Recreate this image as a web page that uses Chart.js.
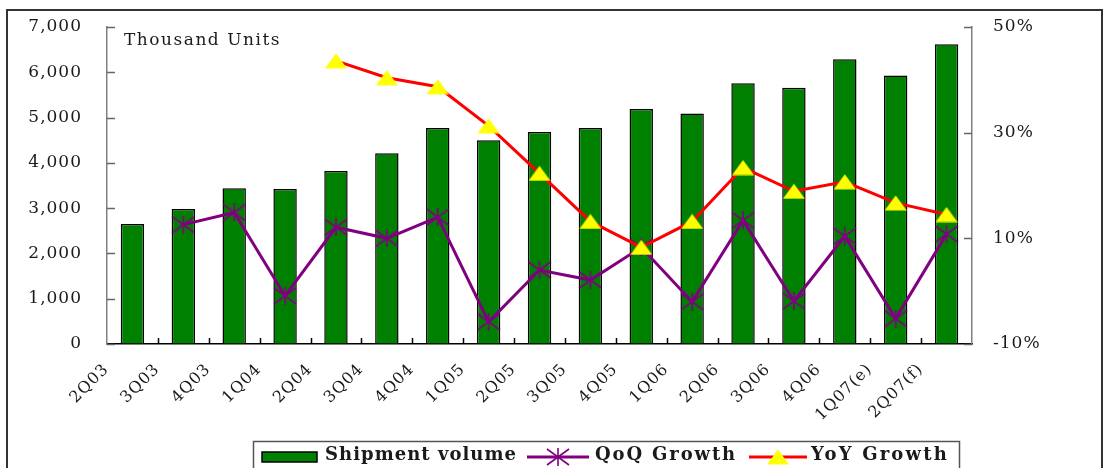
<!DOCTYPE html>
<html>
<head>
<meta charset="utf-8">
<script src="https://cdn.jsdelivr.net/npm/chart.js@4.4.0/dist/chart.umd.min.js"></script>
<style>
	html, body { margin:0; padding:0; background:#fff; }
	#wrap { width:1104px; height:468px; position:relative; }
</style>
</head>
<body>
<div id="wrap"><canvas id="chart" width="1104" height="468"></canvas></div>
<script>
// chart data
var quarters   = ['2Q03','3Q03','4Q03','1Q04','2Q04','3Q04','4Q04','1Q05','2Q05','3Q05','4Q05','1Q06','2Q06','3Q06','4Q06','1Q07(e)','2Q07(f)'];
var shipments  = [2650, 2980, 3440, 3420, 3820, 4210, 4770, 4500, 4680, 4770, 5190, 5090, 5760, 5660, 6290, 5930, 6620];
var qoqGrowth  = [null, 12.6, 14.9, -0.9, 12.1, 10.0, 14.0, -5.8, 4.0, 2.1, 8.3, -2.0, 13.4, -1.9, 10.4, -5.2, 10.8];
var yoyGrowth  = [null, null, null, null, 43.6, 40.4, 38.7, 31.3, 22.3, 13.2, 8.3, 13.2, 23.4, 18.9, 20.7, 16.7, 14.5];
var leftTicks  = [0, 1000, 2000, 3000, 4000, 5000, 6000, 7000];
var rightTicks = [-10, 10, 30, 50];
var unitLabel  = 'Thousand Units';

var FONT = "'DejaVu Serif', serif";
var TEXT = '#1a1a1a';

function fmt( v ){
	return String( v ).replace( /\B(?=(\d{3})+(?!\d))/g, ',' );
}

// excel like markers drawn once on small canvases
function make_star( color ){
	var c = document.createElement( 'canvas' ), ctx;
	c.width = 24; c.height = 18;
	ctx = c.getContext( '2d' );
	ctx.strokeStyle = color;
	ctx.lineWidth = 1.6;
	ctx.beginPath();
	ctx.moveTo( 1, 1 ); ctx.lineTo( 23, 17 );
	ctx.moveTo( 23, 1 ); ctx.lineTo( 1, 17 );
	ctx.moveTo( 12, 0 ); ctx.lineTo( 12, 18 );
	ctx.stroke();
	return c;
};

function make_triangle( color ){
	var c = document.createElement( 'canvas' ), ctx;
	c.width = 22; c.height = 16;
	ctx = c.getContext( '2d' );
	ctx.fillStyle = color;
	ctx.beginPath();
	ctx.moveTo( 11, 0.5 ); ctx.lineTo( 22, 15.5 ); ctx.lineTo( 0, 15.5 );
	ctx.closePath();
	ctx.fill();
	return c;
};

var starMark = make_star( '#800080' ),
	triMark  = make_triangle( '#ffff00' );

// text stretched to the width the original legend uses
function fill_wide( ctx, text, x, y, width ){
	var n = text.length;
	ctx.letterSpacing = '0px';
	var w = ctx.measureText( text ).width;
	ctx.letterSpacing = ( ( width - w ) / n ) + 'px';
	ctx.fillText( text, x, y );
	return width;
};

// frame, unit label, inner tick marks, legend
var decorations = {
	id : 'decorations',
	beforeDraw : function( chart ){
		var ctx = chart.ctx;
		ctx.save();
		ctx.fillStyle = '#fff';
		ctx.fillRect( 0, 0, chart.width, chart.height );
		ctx.restore();
		ctx.letterSpacing = '1px';
	},
	afterDraw : function( chart ){
		var ctx = chart.ctx,
			area = chart.chartArea,
			yl = chart.scales.y,
			yr = chart.scales.y1,
			i;
		ctx.save();

		// outer frame
		ctx.strokeStyle = '#333';
		ctx.lineWidth = 2;
		ctx.strokeRect( 7, 10, chart.width - 9, chart.height + 20 );

		// unit label
		ctx.fillStyle = TEXT;
		ctx.font = '17px ' + FONT;
		ctx.textBaseline = 'middle';
		ctx.textAlign = 'left';
		fill_wide( ctx, unitLabel, area.left + 17, area.top + 14, 157 );

		// tick marks pointing inside
		ctx.lineWidth = 1.5;
		ctx.strokeStyle = '#000';
		var w = ( area.right - area.left ) / quarters.length;
		for( i = 1; i < quarters.length; i++ ){
			var tx = Math.round( area.left + i * w ) + 0.5;
			ctx.beginPath(); ctx.moveTo( tx, area.bottom ); ctx.lineTo( tx, area.bottom - 6 ); ctx.stroke();
		}
		ctx.strokeStyle = '#666';
		leftTicks.forEach( function( v ){
			var ty = Math.round( yl.getPixelForValue( v ) ) + 0.5;
			ctx.beginPath(); ctx.moveTo( area.left, ty ); ctx.lineTo( area.left + 8, ty ); ctx.stroke();
		} );
		rightTicks.forEach( function( v ){
			var ty = Math.round( yr.getPixelForValue( v ) ) + 0.5;
			ctx.beginPath(); ctx.moveTo( area.right, ty ); ctx.lineTo( area.right - 8, ty ); ctx.stroke();
		} );

		// legend
		var ds = chart.data.datasets,
			ly = 455,
			pos = 262,
			widths = [ 192, 142, 138 ],
			lens = [ 0, 62, 58 ],
			gaps = [ 0, 6, 4 ];
		ctx.font = 'bold 18px ' + FONT;
		ctx.fillStyle = ds[0].backgroundColor;
		ctx.strokeStyle = '#000';
		ctx.lineWidth = 1.5;
		ctx.fillRect( pos, ly - 3, 55, 10 );
		ctx.strokeRect( pos, ly - 3, 55, 10 );
		pos += 63;
		ctx.fillStyle = TEXT;
		pos += fill_wide( ctx, ds[0].label, pos, ly, widths[0] ) + 10;
		for( i = 1; i < ds.length; i++ ){
			ctx.strokeStyle = ds[i].borderColor;
			ctx.lineWidth = 3;
			ctx.beginPath(); ctx.moveTo( pos, ly + 2 ); ctx.lineTo( pos + lens[i], ly + 2 ); ctx.stroke();
			Chart.helpers.drawPoint( ctx, { pointStyle : ds[i].pointStyle, radius : ds[i].pointRadius, borderWidth : 0, rotation : 0 }, pos + lens[i] / 2, ly + 2 );
			pos += lens[i] + gaps[i];
			ctx.fillStyle = TEXT;
			pos += fill_wide( ctx, ds[i].label, pos, ly, widths[i] ) + 12;
		}
		ctx.strokeStyle = '#555';
		ctx.lineWidth = 1.5;
		ctx.strokeRect( 253.5, 441.5, pos - 2 - 253, 40 );

		ctx.restore();
		ctx.letterSpacing = '0px';
	}
};

function no_pad( s ){
	s.paddingTop = 0;
	s.paddingBottom = 0;
};

new Chart( document.getElementById( 'chart' ).getContext( '2d' ), {
	type : 'bar',
	data : {
		labels : quarters,
		datasets : [
			{
				type : 'bar', label : 'Shipment volume', data : shipments, yAxisID : 'y', order : 3,
				backgroundColor : '#008000', borderColor : '#000', borderWidth : 1.5,
				barPercentage : 0.46, categoryPercentage : 1
			},
			{
				type : 'line', label : 'QoQ Growth', data : qoqGrowth, yAxisID : 'y1', order : 2,
				borderColor : '#800080', borderWidth : 3, tension : 0,
				pointStyle : starMark, pointRadius : 9
			},
			{
				type : 'line', label : 'YoY Growth', data : yoyGrowth, yAxisID : 'y1', order : 1,
				borderColor : '#ff0000', borderWidth : 3, tension : 0,
				pointStyle : triMark, pointRadius : 10
			}
		]
	},
	options : {
		responsive : false,
		animation : false,
		devicePixelRatio : 1,
		layout : { padding : { left : 0, right : 0, top : 27, bottom : 24 } },
		plugins : { legend : { display : false }, tooltip : { enabled : false } },
		scales : {
			x : {
				offset : true,
				grid : { display : true, drawOnChartArea : false, drawTicks : false },
				border : { display : true, color : '#000', width : 1.5 },
				ticks : {
					autoSkip : false, minRotation : 45, maxRotation : 45,
					labelOffset : -26, padding : 16,
					color : TEXT, font : { family : FONT, size : 16 }
				},
				afterFit : function( s ){ s.height = 100; s.paddingLeft = 0; s.paddingRight = 0; }
			},
			y : {
				position : 'left', min : 0, max : 7000,
				grid : { display : true, drawOnChartArea : false, drawTicks : false },
				border : { display : true, color : '#808080', width : 1.5 },
				afterBuildTicks : function( s ){ s.ticks = leftTicks.map( function( v ){ return { value : v }; } ); },
				ticks : {
					padding : 25, color : TEXT, font : { family : FONT, size : 17 },
					callback : function( v ){ return fmt( v ); }
				},
				afterFit : function( s ){ s.width = 107; no_pad( s ); }
			},
			y1 : {
				position : 'right', min : -10, max : 50,
				grid : { display : true, drawOnChartArea : false, drawTicks : false },
				border : { display : true, color : '#808080', width : 1.5 },
				afterBuildTicks : function( s ){ s.ticks = rightTicks.map( function( v ){ return { value : v }; } ); },
				ticks : {
					padding : 21, color : TEXT, font : { family : FONT, size : 17 },
					callback : function( v ){ return v + '%'; }
				},
				afterFit : function( s ){ s.width = 132; no_pad( s ); }
			}
		}
	},
	plugins : [ decorations ]
} );
</script>
</body>
</html>
